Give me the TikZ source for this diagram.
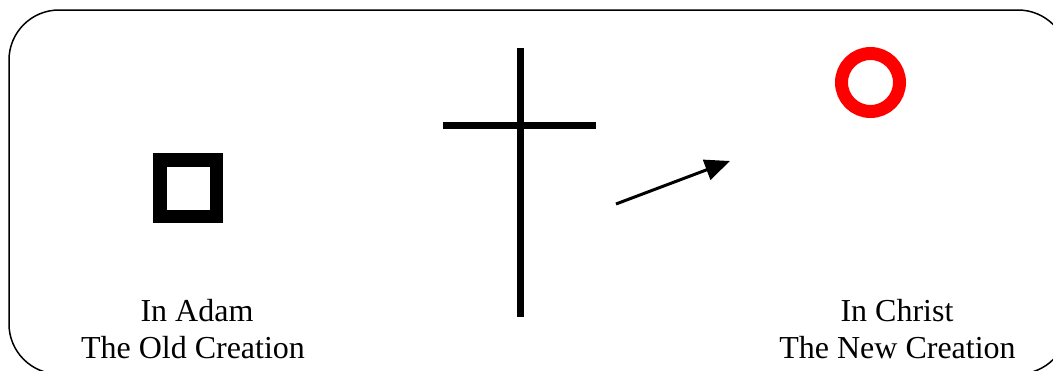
\documentclass[tikz,border=0pt]{standalone}
\usepackage{fontspec}
\setmainfont{Liberation Serif}
\usetikzlibrary{arrows.meta}
\tikzset{
  lbl/.style={anchor=base, inner sep=0pt, font=\fontsize{32}{37}\selectfont},
  bar/.style={line width=7pt},
}
\begin{document}
\begin{tikzpicture}[x=1pt,y=-1pt]
\useasboundingbox (0,0) rectangle (1053,370);
% frame
\draw[line width=1.5pt, rounded corners=50pt] (9,10) rectangle (1068,374);
% square
\node[draw, line width=13.5pt, minimum size=56.5pt, inner sep=0pt] (sq) at (188,188) {};
% circle
\node[draw=red, circle, line width=13pt, minimum size=58pt, inner sep=0pt] (ci) at (870.5,82.5) {};
% cross
\coordinate (vt) at (520,48);
\coordinate (vb) at (520,317);
\coordinate (hl) at (443,125.5);
\coordinate (hr) at (596,125.5);
\draw[bar] (vt) -- (vb);
\draw[bar] (hl) -- (hr);
% arrow
\coordinate (as) at (616,204);
\coordinate (ae) at (730,161);
\draw[line width=3pt, -{Triangle[length=25pt,width=21pt]}] (as) -- (ae);
% labels
\node[lbl] (t1) at (197,321) {In Adam};
\node[lbl] (t2) at (193,358) {The Old Creation};
\node[lbl] (t3) at (897,321) {In Christ};
\node[lbl] (t4) at (897.5,358) {The New Creation};
\end{tikzpicture}
\end{document}
